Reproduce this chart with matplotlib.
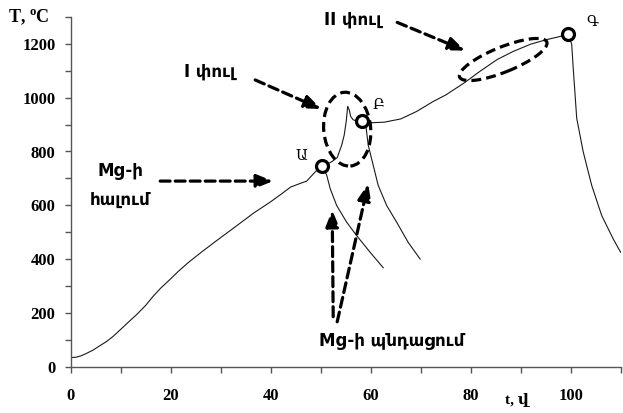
import matplotlib
matplotlib.use("Agg")
import matplotlib.pyplot as plt
from matplotlib.patches import Ellipse
from matplotlib.transforms import IdentityTransform

# ---- data -------------------------------------------------------------
# heating curve: melting, stage I, stage II
heat_t = [0, 1, 2, 3, 4.5, 6, 7.2, 8.5, 9.9, 11.5, 13.2, 15, 16.5, 18, 19.9,
          21.5, 23.5, 26.5, 30, 33.2, 36.5, 39.9, 42, 44, 46, 47.2, 48.9, 50.3,
          51.2, 52.2, 53.3, 54.2, 54.7, 55.1, 55.4, 55.7, 56.0, 56.5, 57.3, 58.3,
          60.3, 62.7, 66, 69.2, 72.5, 75, 78.7, 82, 85.3, 88.5, 92, 95, 97.5, 99.5]
heat_T = [34, 35, 40, 48, 62, 80, 94, 113, 137, 165, 194, 228, 262, 292, 325,
          354, 387, 431, 480, 524, 570, 612, 640, 668, 682, 690, 724, 747,
          752, 762, 777, 824, 861, 911, 968, 955, 930, 918, 912, 912,
          907, 909, 921, 949, 986, 1010, 1055, 1100, 1142, 1172, 1199, 1215, 1226, 1236]

# cooling branches (solidification of Mg), starting at points Ա, Բ, Գ
cool_a_t = [50.3, 51.2, 51.9, 53.2, 55.2, 57.2, 59.9, 62.5]
cool_a_T = [747, 712, 662, 599, 537, 487, 425, 368]
cool_b_t = [58.3, 59.1, 59.5, 60.5, 61.5, 63.2, 65.2, 67.5, 69.9]
cool_b_T = [912, 886, 824, 749, 674, 599, 537, 462, 400]
cool_c_t = [99.5, 100.2, 100.5, 101.2, 102.5, 104.2, 106.2, 108.5, 110]
cool_c_T = [1236, 1199, 1111, 924, 799, 674, 562, 475, 425]

# marked points
point_names = ["Ա", "Բ", "Գ"]
point_t = [50.3, 58.3, 99.5]
point_T = [747, 912, 1236]

x_ticks = [0, 20, 40, 60, 80, 100]
y_ticks = [0, 200, 400, 600, 800, 1000, 1200]

# ---- figure -----------------------------------------------------------
W, H, DPI = 623, 413, 100
fig = plt.figure(figsize=(W / DPI, H / DPI), dpi=DPI)
ax = fig.add_axes([70.7 / W, (H - 366.7) / H, 550 / W, 349.7 / H])

ax.set_xlim(0, 110)
ax.set_ylim(0, 1300)

line_kw = dict(color="#1a1a1a", lw=0.8)
ax.plot(heat_t, heat_T, **line_kw)
ax.plot(cool_a_t, cool_a_T, **line_kw)
ax.plot(cool_b_t, cool_b_T, **line_kw)
ax.plot(cool_c_t, cool_c_T, **line_kw)
ax.plot(point_t, point_T, "o", ms=8.6, mfc="white", mec="black", mew=2.3, zorder=5)

serif = ["Liberation Serif", "DejaVu Serif"]
arm = ["DejaVu Sans"]

# axes styling
for s in ("top", "right"):
    ax.spines[s].set_visible(False)
for s in ("left", "bottom"):
    ax.spines[s].set_color("#555555")
    ax.spines[s].set_linewidth(1.0)
ax.set_xticks(range(0, 111, 10))
ax.set_xticklabels([str(v) if v in x_ticks else "" for v in range(0, 111, 10)])
ax.set_yticks(range(0, 1301, 100))
ax.set_yticklabels([str(v) if v in y_ticks else "" for v in range(0, 1301, 100)])
ax.tick_params(axis="both", direction="out", length=4, width=1, color="#555555")
ax.tick_params(axis="x", pad=11)
ax.tick_params(axis="y", pad=7)
for lab in ax.get_xticklabels() + ax.get_yticklabels():
    lab.set_fontfamily(serif)
    lab.set_fontweight("bold")
    lab.set_fontsize(12)

# axis titles
ax.text(-8.3, 1298, "T, $^{\\mathregular{o}}$C", family=serif, fontweight="bold",
        fontsize=13, ha="center", va="center", clip_on=False)
ax.text(89.3, -122, "t, վ", family=serif, fontweight="bold", fontsize=11,
        ha="center", va="center", clip_on=False)

# point labels
label_pos = [(46.1, 782), (61.5, 973), (104.3, 1283)]
for name, (lx, ly) in zip(point_names, label_pos):
    ax.text(lx, ly, name, family=["DejaVu Serif"], fontsize=10.5,
            ha="center", va="center")

# annotation texts
txt_kw = dict(family=arm, fontsize=12, fontweight="bold", ha="center", va="center")
ax.text(9.9, 729, "Mg-ի", **txt_kw)
ax.text(9.9, 620, "հալում", **txt_kw)
ax.text(27.7, 1096, "I փուլ", **txt_kw)
ax.text(56.3, 1291, "II փուլ", clip_on=False, **txt_kw)
ax.text(64.1, 96, "Mg-ի պնդացում", **txt_kw)

# dashed arrows
dash = (0, (3.1, 1.6))
arrows = [((17.9, 690), (40.5, 690)),
          ((36.9, 1066), (50.1, 958)),
          ((65.3, 1280), (78.9, 1175)),
          ((52.5, 186), (52.3, 583)),
          ((53.3, 167), (59.5, 680))]
for start, end in arrows:
    ax.annotate("", xy=end, xytext=start, annotation_clip=False,
                arrowprops=dict(arrowstyle="-|>,head_length=0.55,head_width=0.22",
                                mutation_scale=18, lw=2.3, ls=dash,
                                color="black", shrinkA=0, shrinkB=0))

# dashed ellipses around the two stages (sizes in pixels)
fig.canvas.draw()
ellipses = [((55.3, 883), 47, 74, 5), ((86.5, 1142), 94, 25, 22)]
for (cx, cy), w, h, ang in ellipses:
    px, py = ax.transData.transform((cx, cy))
    e = Ellipse((px, py), w, h, angle=ang, transform=IdentityTransform(),
                fill=False, ec="black", lw=2.3, ls=dash, zorder=4)
    fig.add_artist(e)

fig.savefig("out.png", dpi=DPI)
